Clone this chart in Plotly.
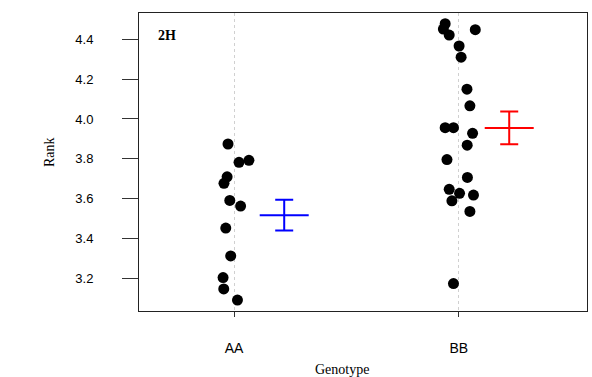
import plotly.graph_objects as go

# Data
aa_x = [0.973, 1.022, 1.066, 0.969, 0.955, 0.981, 1.029, 0.963, 0.985, 0.951, 0.954, 1.015]
aa_y = [3.874, 3.782, 3.792, 3.709, 3.676, 3.590, 3.562, 3.451, 3.311, 3.202, 3.145, 3.089]
bb_x = [1.939, 1.931, 1.957, 2.073, 2.001, 2.010, 2.036, 2.049, 1.939, 1.976,
        2.061, 2.037, 1.947, 2.038, 1.957, 2.003, 2.065, 1.969, 2.049, 1.976]
bb_y = [4.479, 4.452, 4.422, 4.449, 4.367, 4.311, 4.150, 4.066, 3.956, 3.956,
        3.928, 3.868, 3.796, 3.706, 3.646, 3.626, 3.617, 3.588, 3.535, 3.172]
genotypes = ["AA", "BB"]
genotype_pos = [1, 2]
mean_pos = [1.223, 2.224]
means = [3.516, 3.955]
ses = [0.077, 0.082]
mean_colors = ["#0000ff", "#ff0000"]
y_ticks = [3.2, 3.4, 3.6, 3.8, 4.0, 4.2, 4.4]

fig = go.Figure()
fig.add_trace(go.Scatter(x=aa_x + bb_x, y=aa_y + bb_y, mode="markers",
                         marker=dict(color="black", size=11, line=dict(width=0)),
                         showlegend=False, hoverinfo="skip"))
for xp, m, s, c in zip(mean_pos, means, ses, mean_colors):
    fig.add_trace(go.Scatter(
        x=[xp], y=[m], mode="markers",
        marker=dict(symbol="line-ew", size=35, line=dict(color=c, width=2)),
        error_y=dict(type="data", array=[s], visible=True, color=c, thickness=2, width=9),
        showlegend=False, hoverinfo="skip"))

fig.update_xaxes(range=[0.577, 2.570], tickvals=genotype_pos, ticktext=genotypes,
                 showgrid=True, gridcolor="#d0d0d0", griddash="dot", gridwidth=1,
                 zeroline=False, showline=True, mirror=True, linecolor="#222222", linewidth=1,
                 ticks="outside", ticklen=5, tickcolor="#333333",
                 ticklabelstandoff=19,
                 tickfont=dict(family="Liberation Sans, Arial", size=14, color="black"))
fig.update_yaxes(range=[3.034, 4.533], tickvals=y_ticks, tickformat=".1f",
                 showgrid=False, zeroline=False, showline=True, mirror=True,
                 linecolor="#222222", linewidth=1,
                 ticks="outside", ticklen=16, tickcolor="#333333",
                 ticklabelstandoff=26,
                 tickfont=dict(family="Liberation Sans, Arial", size=13, color="black"))

fig.update_layout(
    width=592, height=377,
    margin=dict(l=139, r=5, t=13, b=66),
    paper_bgcolor="white", plot_bgcolor="white",
    annotations=[
        dict(text="Genotype", xref="paper", yref="paper", x=(342 - 139) / 448, y=(377 - 66 - 369) / 298,
             xanchor="center", yanchor="middle", showarrow=False,
             font=dict(family="Liberation Serif, Times New Roman", size=14, color="black")),
        dict(text="Rank", xref="paper", yref="paper", x=(49 - 139) / 448, y=(311 - 152) / 298,
             xanchor="center", yanchor="middle", showarrow=False, textangle=-90,
             font=dict(family="Liberation Serif, Times New Roman", size=14, color="black")),
        dict(text="<b>2H</b>", xref="paper", yref="paper", x=(167 - 139) / 448, y=(311 - 35) / 298,
             xanchor="center", yanchor="middle", showarrow=False,
             font=dict(family="Liberation Serif, Times New Roman", size=14, color="black")),
    ],
)

fig.write_html("out.html", config={"displayModeBar": False},
               post_script="document.body.style.margin='0';document.body.style.overflow='hidden';")
